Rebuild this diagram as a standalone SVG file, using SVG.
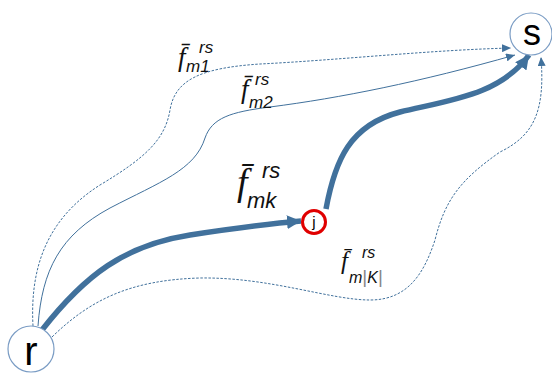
<svg xmlns="http://www.w3.org/2000/svg" width="552" height="375" viewBox="0 0 552 375">
<style>
.node{fill:#fff;stroke:#7a9cc4;stroke-width:1.2}
.lbl{font-family:"Liberation Sans",Arial,sans-serif;fill:#000}
.thick{fill:none;stroke:#41719c;stroke-width:5.5}
.thin{fill:none;stroke:#41719c;stroke-width:1}
.dash{fill:none;stroke:#41719c;stroke-width:1;stroke-dasharray:2.5 1.5}
.f{font-family:"Liberation Serif",serif;font-style:italic;fill:#111}
.s{font-family:"Liberation Sans",Arial,sans-serif;font-style:italic;fill:#111}
</style>
<defs>
<marker id="big" markerUnits="userSpaceOnUse" markerWidth="16" markerHeight="14" refX="14" refY="7" orient="auto">
<path d="M0,0 L14,7 L0,14 z" fill="#41719c"/>
</marker>
<marker id="small" markerUnits="userSpaceOnUse" markerWidth="10" markerHeight="8" refX="9" refY="4" orient="auto">
<path d="M0,0 L9,4 L0,8 z" fill="#41719c"/>
</marker>
</defs>
<g id="connectors">
<path class="dash" d="M 33 326 C 30 270, 45 220, 100 185 C 145 158, 165 140, 170 110 C 175 80, 200 68, 260 64 C 340 60, 430 50, 511 48" marker-end="url(#small)"/>
<path class="thin" d="M 38 326 C 42 270, 60 235, 110 208 C 160 182, 195 170, 205 138 C 212 118, 230 112, 270 107 C 340 98, 420 82, 515 55" marker-end="url(#small)"/>
<path class="dash" d="M 52 337 C 90 300, 130 280, 200 278 C 270 277, 330 300, 370 300 C 410 300, 425 270, 435 240 C 445 200, 460 180, 500 152 C 535 135, 545 110, 541 57" marker-end="url(#small)"/>
<path class="thick" d="M 42 330 C 85 275, 125 245, 190 235 C 230 229, 265 224, 301 221" marker-end="url(#big)"/>
<path class="thick" d="M 326 209 C 335 160, 350 125, 400 112 C 450 100, 500 95, 529 55" marker-end="url(#big)"/>
</g>
<g id="node-r">
<circle class="node" cx="31" cy="349" r="23"/>
<text class="lbl" x="31" y="365" font-size="40" text-anchor="middle">r</text>
</g>
<g id="node-s">
<circle class="node" cx="531" cy="34" r="21"/>
<text class="lbl" x="532" y="45" font-size="36" text-anchor="middle">s</text>
</g>
<g id="node-j">
<circle cx="314" cy="222" r="11.5" fill="#fff" stroke="#e00000" stroke-width="3"/>
<text class="lbl" x="314" y="227" font-size="15" text-anchor="middle">j</text>
</g>
<g id="label-m1">
<text class="f" x="178" y="66" font-size="27">f̄</text>
<text class="s" x="199" y="53" font-size="17">rs</text>
<text class="s" x="186" y="72" font-size="17">m1</text>
</g>
<g id="label-m2">
<text class="f" x="241" y="98" font-size="27">f̄</text>
<text class="s" x="255" y="85" font-size="17">rs</text>
<text class="s" x="249" y="108" font-size="17">m2</text>
</g>
<g id="label-mk">
<text class="f" x="237" y="195" font-size="38">f̄</text>
<text class="s" x="262" y="178" font-size="22">rs</text>
<text class="s" x="247" y="208" font-size="22">mk</text>
</g>
<g id="label-mK">
<text class="f" x="341" y="269" font-size="25">f̄</text>
<text class="s" x="362" y="258" font-size="16">rs</text>
<text class="s" x="349" y="283" font-size="16">m<tspan fill="#888" font-style="normal" font-size="19">|</tspan>K<tspan fill="#888" font-style="normal" font-size="19">|</tspan></text>
</g>
</svg>
